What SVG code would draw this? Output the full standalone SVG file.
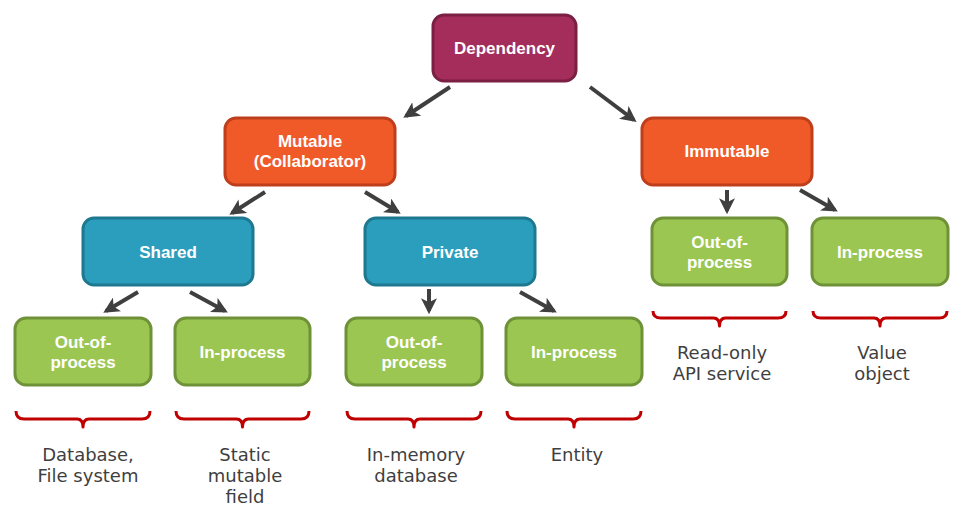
<svg xmlns="http://www.w3.org/2000/svg" width="968" height="518" viewBox="0 0 968 518">
<defs>
<style>
.n rect{stroke-width:3}
.dep rect{fill:#A52D5B;stroke:#7B1F43}
.org rect{fill:#F05A28;stroke:#BF3F1C}
.teal rect{fill:#2A9EBC;stroke:#1E7890}
.grn rect{fill:#9BC651;stroke:#6F9238}
.n text{font-family:"Liberation Sans",Arial,sans-serif;font-weight:bold;font-size:17px;fill:#fff;text-anchor:middle}
.lbl{font-family:"DejaVu Sans","Liberation Sans",sans-serif;font-size:18px;fill:#3f3f3f;text-anchor:middle}
.br{fill:none;stroke:#C00000;stroke-width:3;stroke-linejoin:round}
#connectors line{stroke:#3f3f3f;stroke-width:4;marker-end:url(#ah)}
</style>
<marker id="ah" viewBox="0 0 10 10" refX="8" refY="5" markerWidth="4" markerHeight="4" orient="auto" markerUnits="strokeWidth">
<path d="M0,0 L10,5 L0,10 L2.5,5 Z" fill="#3f3f3f"/>
</marker>
</defs>
<rect width="968" height="518" fill="#fff"/>
<g id="connectors">
<line x1="450" y1="87" x2="406" y2="116"/>
<line x1="590" y1="87" x2="634" y2="120"/>
<line x1="265" y1="192" x2="232" y2="213"/>
<line x1="365" y1="192" x2="398" y2="212"/>
<line x1="138" y1="292" x2="106" y2="311"/>
<line x1="190" y1="292" x2="225" y2="311"/>
<line x1="429" y1="289" x2="429" y2="311"/>
<line x1="520" y1="292" x2="554" y2="311"/>
<line x1="727" y1="190" x2="727" y2="211"/>
<line x1="800" y1="190" x2="835" y2="210"/>
</g>
<g id="dependency" class="n dep"><rect x="433" y="15" width="143" height="66" rx="11"/><text x="504.5" y="54">Dependency</text></g>
<g id="mutable" class="n org"><rect x="225" y="118" width="170" height="67" rx="11"/><text x="310" y="147">Mutable</text><text x="310" y="167">(Collaborator)</text></g>
<g id="immutable" class="n org"><rect x="642" y="118" width="170" height="67" rx="11"/><text x="727" y="157">Immutable</text></g>
<g id="shared" class="n teal"><rect x="83" y="218" width="170" height="67" rx="11"/><text x="168" y="258">Shared</text></g>
<g id="private" class="n teal"><rect x="365" y="218" width="170" height="67" rx="11"/><text x="450" y="258">Private</text></g>
<g id="imm-out" class="n grn"><rect x="652" y="218" width="135" height="67" rx="11"/><text x="719.5" y="248">Out-of-</text><text x="719.5" y="268">process</text></g>
<g id="imm-in" class="n grn"><rect x="812" y="218" width="136" height="67" rx="11"/><text x="880" y="258">In-process</text></g>
<g id="shared-out" class="n grn"><rect x="15" y="318" width="136" height="67" rx="11"/><text x="83" y="348">Out-of-</text><text x="83" y="368">process</text></g>
<g id="shared-in" class="n grn"><rect x="175" y="318" width="135" height="67" rx="11"/><text x="242.5" y="358">In-process</text></g>
<g id="private-out" class="n grn"><rect x="346" y="318" width="136" height="67" rx="11"/><text x="414" y="348">Out-of-</text><text x="414" y="368">process</text></g>
<g id="private-in" class="n grn"><rect x="506" y="318" width="136" height="67" rx="11"/><text x="574" y="358">In-process</text></g>
<g id="braces">
<path class="br" d="M16,411 q0,8 8,8 H77 q6,0 6,8 q0,-8 6,-8 H142 q8,0 8,-8"/>
<path class="br" d="M176,411 q0,8 8,8 H236.5 q6,0 6,8 q0,-8 6,-8 H301 q8,0 8,-8"/>
<path class="br" d="M347,411 q0,8 8,8 H408 q6,0 6,8 q0,-8 6,-8 H473 q8,0 8,-8"/>
<path class="br" d="M507,411 q0,8 8,8 H568 q6,0 6,8 q0,-8 6,-8 H633 q8,0 8,-8"/>
<path class="br" d="M653,311 q0,7 8,7 H713.5 q6,0 6,8 q0,-8 6,-8 H778 q8,0 8,-7"/>
<path class="br" d="M813,311 q0,7 8,7 H874 q6,0 6,8 q0,-8 6,-8 H939 q8,0 8,-7"/>
</g>
<g id="labels">
<text class="lbl" x="88" y="461">Database,</text><text class="lbl" x="88" y="482">File system</text>
<text class="lbl" x="245" y="461">Static</text><text class="lbl" x="245" y="482">mutable</text><text class="lbl" x="245" y="503">field</text>
<text class="lbl" x="416" y="461">In-memory</text><text class="lbl" x="416" y="482">database</text>
<text class="lbl" x="577" y="461">Entity</text>
<text class="lbl" x="722" y="359">Read-only</text><text class="lbl" x="722" y="380">API service</text>
<text class="lbl" x="882" y="359">Value</text><text class="lbl" x="882" y="380">object</text>
</g>
</svg>
